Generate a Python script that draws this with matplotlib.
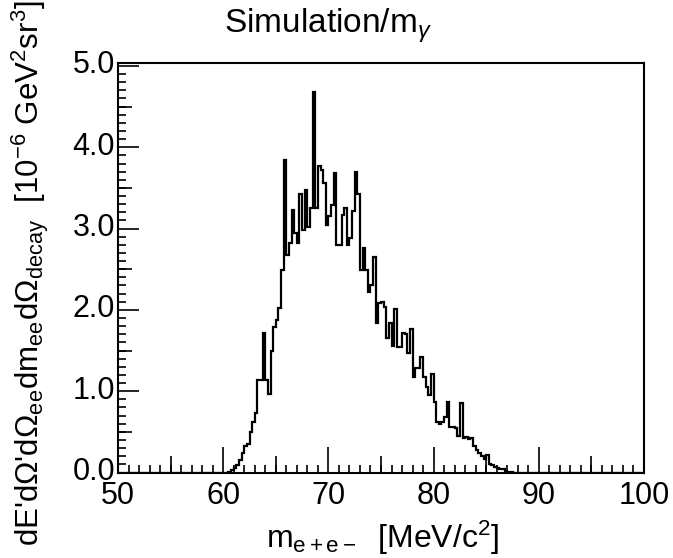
import numpy as np
import matplotlib
matplotlib.use("Agg")
import matplotlib.pyplot as plt
import matplotlib.transforms as mtransforms
from matplotlib.ticker import MultipleLocator, FixedLocator, NullFormatter

plt.rcParams['font.family'] = ['Liberation Sans', 'DejaVu Sans']
plt.rcParams['mathtext.fontset'] = 'custom'
plt.rcParams['mathtext.rm'] = 'Liberation Sans'
plt.rcParams['mathtext.it'] = 'Liberation Sans:italic'
plt.rcParams['mathtext.default'] = 'rm'

# histogram: 200 bins of 0.25 MeV between 50 and 100, non-zero part only below
x_lo, x_hi, bin_w = 50.0, 100.0, 0.25
first_bin = 60.5
counts = [0.01, 0.03, 0.05, 0.09, 0.15, 0.24, 0.32, 0.35, 0.50, 0.62,
          0.73, 1.14, 1.14, 1.72, 1.14, 0.97, 1.49, 1.79, 1.88, 2.02,
          2.49, 3.84, 2.68, 2.82, 3.23, 2.94, 2.82, 3.43, 2.98, 3.47,
          3.02, 3.25, 4.68, 3.25, 3.77, 3.72, 3.56, 3.04, 3.15, 3.29,
          3.68, 2.80, 2.80, 3.17, 3.25, 2.80, 2.88, 3.21, 3.70, 3.43,
          2.49, 2.76, 2.49, 2.22, 2.31, 2.65, 1.84, 2.08, 2.10, 2.04,
          1.65, 1.84, 1.55, 2.01, 1.54, 1.54, 1.72, 1.70, 1.47, 1.76,
          1.18, 1.29, 1.28, 1.42, 1.18, 1.05, 0.95, 1.21, 0.87, 0.62,
          0.60, 0.62, 0.68, 0.87, 0.56, 0.56, 0.55, 0.45, 0.85, 0.43,
          0.44, 0.41, 0.42, 0.33, 0.28, 0.24, 0.20, 0.16, 0.21, 0.11,
          0.09, 0.07, 0.05, 0.04, 0.04, 0.02, 0.01, 0.01]

edges = np.arange(x_lo, x_hi + bin_w / 2, bin_w)
values = np.zeros(len(edges) - 1)
i0 = int(round((first_bin - x_lo) / bin_w))
values[i0:i0 + len(counts)] = counts

W, H = 673, 558
fig = plt.figure(figsize=(W / 100, H / 100), dpi=100)
ax = fig.add_axes([118 / W, 1 - 472.5 / H, (644 - 118) / W, (472.5 - 62.7) / H])

ax.stairs(values, edges, color='black', linewidth=1.6)

ax.set_xlim(x_lo, x_hi)
ax.set_ylim(0, 5.04)

for s in ax.spines.values():
    s.set_linewidth(1.5)

ax.xaxis.set_major_locator(MultipleLocator(10))
ax.xaxis.set_minor_locator(MultipleLocator(1))
ax.yaxis.set_major_locator(MultipleLocator(1))
ax.yaxis.set_minor_locator(MultipleLocator(0.1))
ax.yaxis.set_major_formatter(lambda v, p: f"{v:.1f}")
ax.tick_params(which='both', direction='in', top=False, right=False, width=1.2,
               labelsize=22, colors='black')
ax.tick_params(axis='x', which='major', length=19, pad=6)
ax.tick_params(axis='x', which='minor', length=6)
ax.tick_params(axis='y', which='major', length=15, pad=2)
ax.tick_params(axis='y', which='minor', length=6)

# y labels sit a little above their ticks, as in ROOT
shift = mtransforms.ScaledTranslation(0, 4 / 100, fig.dpi_scale_trans)
for lab in ax.get_yticklabels():
    lab.set_transform(lab.get_transform() + shift)

# medium ticks at the half divisions (ROOT style)
secx = ax.secondary_xaxis(0)
secx.xaxis.set_major_locator(FixedLocator([55, 65, 75, 85, 95]))
secx.xaxis.set_major_formatter(NullFormatter())
secx.tick_params(direction='in', length=12, width=1.2)
secx.spines['bottom'].set_visible(False)
secy = ax.secondary_yaxis(0)
secy.yaxis.set_major_locator(FixedLocator([0.5, 1.5, 2.5, 3.5, 4.5]))
secy.yaxis.set_major_formatter(NullFormatter())
secy.tick_params(direction='in', length=10, width=1.2)
secy.spines['left'].set_visible(False)

fig.text(328 / W, 1 - 26 / H, r"Simulation/m$_{\mathit{\gamma}}$", ha='center', va='center',
         fontsize=24)
fig.text(383 / W, 1 - 538 / H, r"m$_{\rm e+e-}$  [MeV/c$^{2}$]", ha='center', va='center',
         fontsize=23)
fig.text(30 / W, 1 - 1 / H,
         r"dE'd$\Omega$'d$\Omega_{\rm ee}$dm$_{\rm ee}$d$\Omega_{\rm decay}$  [10$^{-6}$ GeV$^{2}$sr$^{3}$]",
         rotation=90, ha='center', va='top', fontsize=22.5)

fig.savefig("out.png", dpi=100)
